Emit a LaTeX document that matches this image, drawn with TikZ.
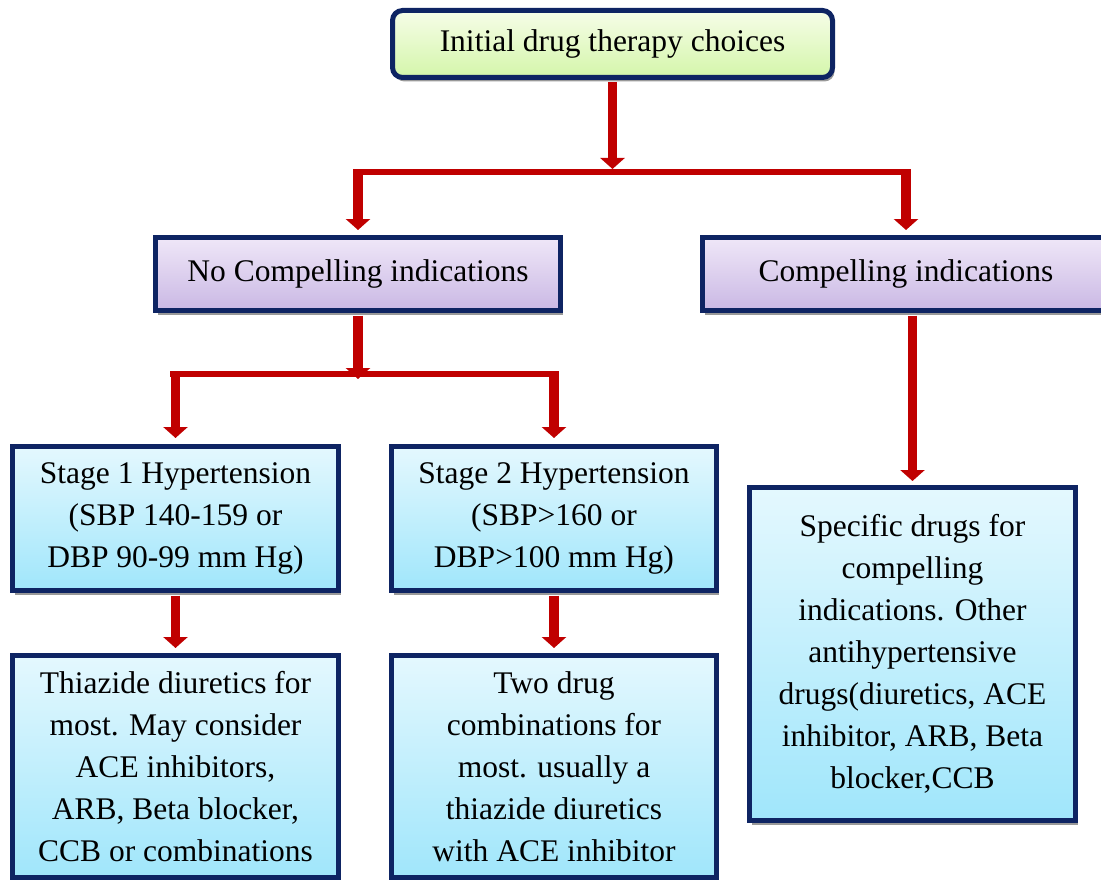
\documentclass[tikz,border=0pt]{standalone}
\usepackage{fontspec}
\setmainfont{Liberation Serif}
\usetikzlibrary{arrows.meta, shadows}
\definecolor{navy}{RGB}{14,36,99}
\definecolor{arrowred}{RGB}{192,0,0}
\definecolor{greentop}{RGB}{246,253,232}
\definecolor{greenbot}{RGB}{212,246,170}
\definecolor{lilactop}{RGB}{239,231,248}
\definecolor{lilacbot}{RGB}{202,184,228}
\definecolor{cyantop}{RGB}{228,248,254}
\definecolor{cyanbot}{RGB}{160,230,251}

\begin{document}
\begin{tikzpicture}[x=1pt, y=-1pt,
    box/.style={draw=navy, line width=5pt, inner sep=0pt, align=center,
        font=\fontsize{31.5}{42}\selectfont,
        drop shadow={shadow xshift=2pt, shadow yshift=-4pt, fill=black!40, opacity=1}},
    greenbox/.style={box, rounded corners=10pt, top color=greentop, bottom color=greenbot},
    lilacbox/.style={box, top color=lilactop, bottom color=lilacbot},
    cyanbox/.style={box, top color=cyantop, bottom color=cyanbot},
    arr/.style={arrowred, line width=9.5pt, -{Triangle[width=24pt, length=11pt]}},
    bar/.style={arrowred, line width=6pt}]
        \useasboundingbox (0,0) rectangle (1101,880);

        % top
        \node[greenbox, minimum width=440, minimum height=67] (init) at (612.5,44) {Initial drug therapy choices};

        % indications
        \node[lilacbox, minimum width=405, minimum height=73] (nocomp) at (358,274) {No Compelling indications};
        \node[lilacbox, minimum width=407, minimum height=73] (comp) at (906,274) {Compelling indications};

        % stages
        \node[cyanbox, minimum width=326, minimum height=144] (stage1) at (175.5,518.5)
            {Stage 1 Hypertension\\(SBP 140-159 or\\DBP 90-99 mm Hg)};
        \node[cyanbox, minimum width=325, minimum height=144] (stage2) at (554,518.5)
            {Stage 2 Hypertension\\(SBP>160 or\\DBP>100 mm Hg)};

        % drugs
        \node[cyanbox, minimum width=326, minimum height=222] (thiazide) at (175.5,766.5)
            {Thiazide diuretics for\\most. May consider\\ACE inhibitors,\\ARB, Beta blocker,\\CCB or combinations};
        \node[cyanbox, minimum width=325, minimum height=222] (twodrug) at (554,766.5)
            {Two drug\\combinations for\\most. usually a\\thiazide diuretics\\with ACE inhibitor};
        \node[cyanbox, minimum width=326, minimum height=333] (specific) at (912.5,654)
            {Specific drugs for\\compelling\\indications. Other\\antihypertensive\\drugs(diuretics, ACE\\inhibitor, ARB, Beta\\blocker,CCB};

        % first split
        \coordinate (s1l) at (353,172);
        \coordinate (s1r) at (911,172);
        \draw[bar] (s1l) -- (s1r);
        \draw[arr, shorten <=2.5pt] (init.south) -- ++(0,89);
        \draw[arr, shorten >=5pt] (nocomp.north |- s1l) -- (nocomp.north);
        \draw[arr, shorten >=5pt] (comp.north |- s1r) -- (comp.north);

        % second split
        \coordinate (s2l) at (170,374);
        \coordinate (s2r) at (559,374);
        \draw[bar] (s2l) -- (s2r);
        \draw[arr, shorten <=2.5pt] (nocomp.south) -- ++(0,66);
        \draw[arr, shorten >=6pt] (stage1.north |- s2l) -- (stage1.north);
        \draw[arr, shorten >=6pt] (stage2.north |- s2r) -- (stage2.north);

        % down to drugs
        \draw[arr, shorten <=2.5pt, shorten >=5pt] (stage1.south) -- (thiazide.north);
        \draw[arr, shorten <=2.5pt, shorten >=5pt] (stage2.south) -- (twodrug.north);
        \draw[arr, shorten <=2.5pt, shorten >=4pt] (comp.south -| specific.north) -- (specific.north);
    \end{tikzpicture}
\end{document}
